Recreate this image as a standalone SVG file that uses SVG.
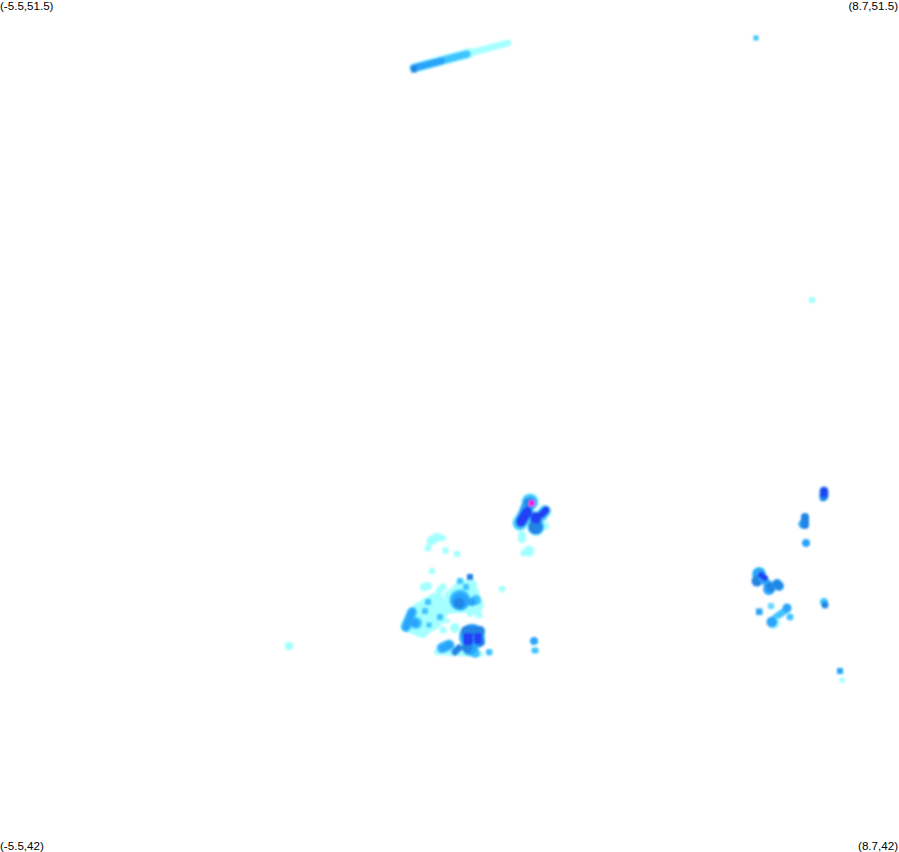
<svg xmlns="http://www.w3.org/2000/svg" width="899" height="852" viewBox="0 0 899 852">
<style>
text{font-family:"Liberation Sans",Arial,sans-serif;font-size:11.6px;fill:#000}
.l{fill:#a4ffff;stroke:#a4ffff}
.m{fill:#3fc4ff;stroke:#3fc4ff}
.s{fill:#2aa4fb;stroke:#2aa4fb}
.d{fill:#2084e4;stroke:#2084e4}
.b{fill:#2440f4;stroke:#2440f4}
line{stroke-linecap:round;fill:none}
circle.l,circle.m,circle.s,circle.d,circle.b,rect.l,rect.m,rect.s,rect.d,rect.b{stroke:none}
polygon{stroke-width:6;stroke-linejoin:round}
</style>
<defs><filter id="f" filterUnits="userSpaceOnUse" x="0" y="0" width="899" height="852"><feGaussianBlur stdDeviation="0.8"/></filter></defs>
<rect width="899" height="852" fill="#fff"/>
<g id="stripe" filter="url(#f)">
<line class="l" x1="414" y1="68" x2="508" y2="43" stroke-width="6.500"/>
<line class="l" x1="414" y1="68" x2="470" y2="53" stroke-width="10"/>
<line class="m" x1="414" y1="68" x2="467" y2="54" stroke-width="7.500"/>
<line class="s" x1="414" y1="68" x2="441" y2="61" stroke-width="8"/>
<rect class="d" x="411" y="65.500" width="6" height="7"/>
</g>
<g id="points-north" filter="url(#f)">
<rect class="m" x="753.500" y="35.500" width="5" height="5"/>
<rect class="l" x="809" y="297" width="6" height="6"/>
<rect class="l" x="285" y="642" width="8" height="8" rx="2"/>
</g>
<g id="cluster-top" filter="url(#f)">
<circle class="l" cx="545" cy="526" r="4"/>
<line class="l" x1="522" y1="535" x2="522" y2="539" stroke-width="8"/>
<circle class="l" cx="529" cy="551" r="5.500"/><circle class="l" cx="524" cy="553" r="3.500"/>
<circle class="l" cx="530" cy="502" r="9"/>
<line class="l" x1="527" y1="512" x2="520" y2="523" stroke-width="16"/>
<line class="l" x1="545" y1="511" x2="541" y2="516" stroke-width="13"/>
<circle class="l" cx="536" cy="527" r="9"/>
<circle class="m" cx="530" cy="502" r="8"/>
<line class="m" x1="527" y1="512" x2="520" y2="523" stroke-width="14"/>
<line class="m" x1="545" y1="511" x2="541" y2="516" stroke-width="11"/>
<circle class="s" cx="536" cy="527" r="8"/>
<line class="s" x1="528" y1="504" x2="522" y2="520" stroke-width="12"/>
<circle class="d" cx="530" cy="503" r="5.500"/>
<circle class="d" cx="535" cy="527" r="7"/>
<line class="d" x1="536" y1="517" x2="535" y2="526" stroke-width="11"/>
<line class="b" x1="527" y1="512" x2="521" y2="522" stroke-width="10"/>
<line class="b" x1="546" y1="510" x2="542" y2="514" stroke-width="7.500"/>
<circle class="b" cx="536" cy="518" r="5.500"/>
<rect x="529" y="500.500" width="5.500" height="5.500" fill="#ff00e0"/>
</g>
<g id="cluster-light" filter="url(#f)">
<line class="l" x1="431" y1="541" x2="437" y2="537" stroke-width="9"/>
<line class="l" x1="437" y1="537" x2="443" y2="538" stroke-width="6"/>
<circle class="l" cx="428" cy="548" r="3.500"/>
<rect class="l" x="442.500" y="547.500" width="6" height="6"/>
<rect class="l" x="454" y="551" width="6" height="6"/>
<rect class="l" x="429" y="568" width="6" height="6"/>
<rect class="l" x="499" y="586" width="6" height="6"/>
<line class="l" x1="424" y1="587" x2="428" y2="586" stroke-width="8"/>
<line class="l" x1="439" y1="591" x2="443" y2="587" stroke-width="7"/>
<polygon class="l" points="405,627 414,610 427,600 440,597 445,612 441,622 433,626 423,635 410,630"/>
<circle class="l" cx="408" cy="625" r="7"/><circle class="l" cx="419" cy="608" r="6"/><circle class="l" cx="434" cy="599" r="6"/><circle class="l" cx="420" cy="631" r="6"/><circle class="l" cx="433" cy="626" r="5"/>
<polygon class="l" points="446,608 449,594 460,583 473,584 476,593 479,603 478,613 468,610 450,610"/>
<circle class="l" cx="450" cy="596" r="6"/><circle class="l" cx="462" cy="585" r="6"/><circle class="l" cx="472" cy="585" r="5"/><circle class="l" cx="478" cy="605" r="6"/><circle class="l" cx="479" cy="615" r="3.500"/><circle class="l" cx="470" cy="614" r="3"/><circle class="l" cx="451" cy="609" r="5"/>
<circle class="l" cx="443" cy="630" r="3.500"/>
<circle class="l" cx="455" cy="628" r="5"/><circle class="l" cx="447" cy="621" r="2.500"/>
</g>
<g id="cluster-middle" filter="url(#f)">
<line class="m" x1="412" y1="612" x2="406" y2="627" stroke-width="10"/>
<circle class="m" cx="416" cy="623" r="6"/>
<line class="s" x1="412" y1="612" x2="406" y2="627" stroke-width="7"/>
<circle class="s" cx="415" cy="623" r="4"/>
<rect class="m" x="425" y="599" width="6" height="6" rx="1.500"/>
<rect class="m" x="422" y="608" width="6" height="6" rx="1.500"/>
<rect class="m" x="437" y="614" width="6" height="6" rx="1.500"/>
<rect class="m" x="426.500" y="622.500" width="5" height="5" rx="1"/>
<rect class="m" x="457" y="578" width="6" height="6" rx="1.500"/>
<rect class="m" x="463" y="584" width="6" height="6" rx="1.500"/>
<circle class="m" cx="476" cy="600" r="5"/>
<circle class="m" cx="460" cy="600" r="10.500"/>
<circle class="s" cx="460" cy="601" r="9"/>
<circle class="s" cx="472" cy="602" r="4"/>
<circle class="d" cx="459" cy="603" r="5.500"/>
<rect class="d" x="467" y="574" width="6" height="6"/>
</g>
<g id="cluster-bottom" filter="url(#f)">
<line class="l" x1="437" y1="652" x2="480" y2="654" stroke-width="6"/>
<circle class="m" cx="472" cy="637" r="13"/>
<circle class="m" cx="470" cy="648" r="8"/>
<circle class="m" cx="475" cy="653" r="5"/>
<rect class="m" x="486" y="649" width="6.500" height="6.500" rx="2"/>
<circle class="s" cx="472" cy="636" r="12"/>
<circle class="s" cx="470" cy="648" r="7"/>
<line class="m" x1="442" y1="648" x2="449" y2="645" stroke-width="11"/>
<line class="s" x1="443" y1="648" x2="449" y2="645" stroke-width="8"/>
<line class="d" x1="455" y1="652" x2="459" y2="648" stroke-width="7"/>
<line class="d" x1="466" y1="631" x2="480" y2="631" stroke-width="10"/>
<circle class="d" cx="467" cy="648" r="5"/>
<circle class="d" cx="480" cy="642" r="5"/>
<rect class="b" x="463" y="633" width="10" height="12" rx="2"/>
<rect class="b" x="474" y="633" width="8" height="11" rx="2"/>
<circle class="s" cx="534" cy="641" r="4"/>
<rect class="m" x="531.500" y="647.500" width="7" height="6" rx="2"/>
</g>
<g id="cluster-east" filter="url(#f)">
<line class="s" x1="823" y1="498" x2="823" y2="496" stroke-width="7"/>
<line class="d" x1="824" y1="491" x2="824" y2="496" stroke-width="9"/>
<line class="b" x1="824" y1="491" x2="824" y2="494" stroke-width="7"/>
<circle class="s" cx="803" cy="524" r="4.500"/>
<line class="d" x1="805" y1="517" x2="805" y2="525" stroke-width="8"/>
<circle class="s" cx="806" cy="543" r="4"/>
<circle class="m" cx="759" cy="574" r="7"/>
<circle class="s" cx="759" cy="574" r="6"/>
<circle class="d" cx="757" cy="581" r="5.500"/>
<line class="s" x1="762" y1="578" x2="770" y2="586" stroke-width="8"/>
<circle class="s" cx="769" cy="589" r="6"/>
<circle class="d" cx="771" cy="587" r="5"/>
<line class="s" x1="777" y1="584" x2="779" y2="586" stroke-width="10"/>
<line class="d" x1="777" y1="584" x2="779" y2="586" stroke-width="7.500"/>
<line class="b" x1="761" y1="575" x2="765" y2="578" stroke-width="6"/>
<rect x="768" y="603" width="6" height="6" fill="#66d8ff"/>
<rect class="s" x="756" y="608.500" width="6.500" height="6.500"/>
<line class="m" x1="776" y1="617" x2="786" y2="610" stroke-width="7"/>
<circle class="s" cx="787" cy="608" r="4.500"/>
<circle class="m" cx="790" cy="617" r="3.500"/>
<circle class="l" cx="774" cy="623" r="6"/>
<circle class="s" cx="772" cy="622" r="5.500"/>
<circle class="m" cx="824" cy="602" r="4"/>
<circle class="d" cx="825" cy="605" r="3.500"/>
<rect class="s" x="837" y="668" width="6" height="6"/>
<rect class="l" x="839.500" y="677.500" width="5" height="5"/>
</g>
<g id="labels">
<text x="0" y="10">(-5.5,51.5)</text>
<text x="898" y="10" text-anchor="end">(8.7,51.5)</text>
<text x="0" y="850">(-5.5,42)</text>
<text x="898" y="850" text-anchor="end">(8.7,42)</text>
</g>
</svg>
